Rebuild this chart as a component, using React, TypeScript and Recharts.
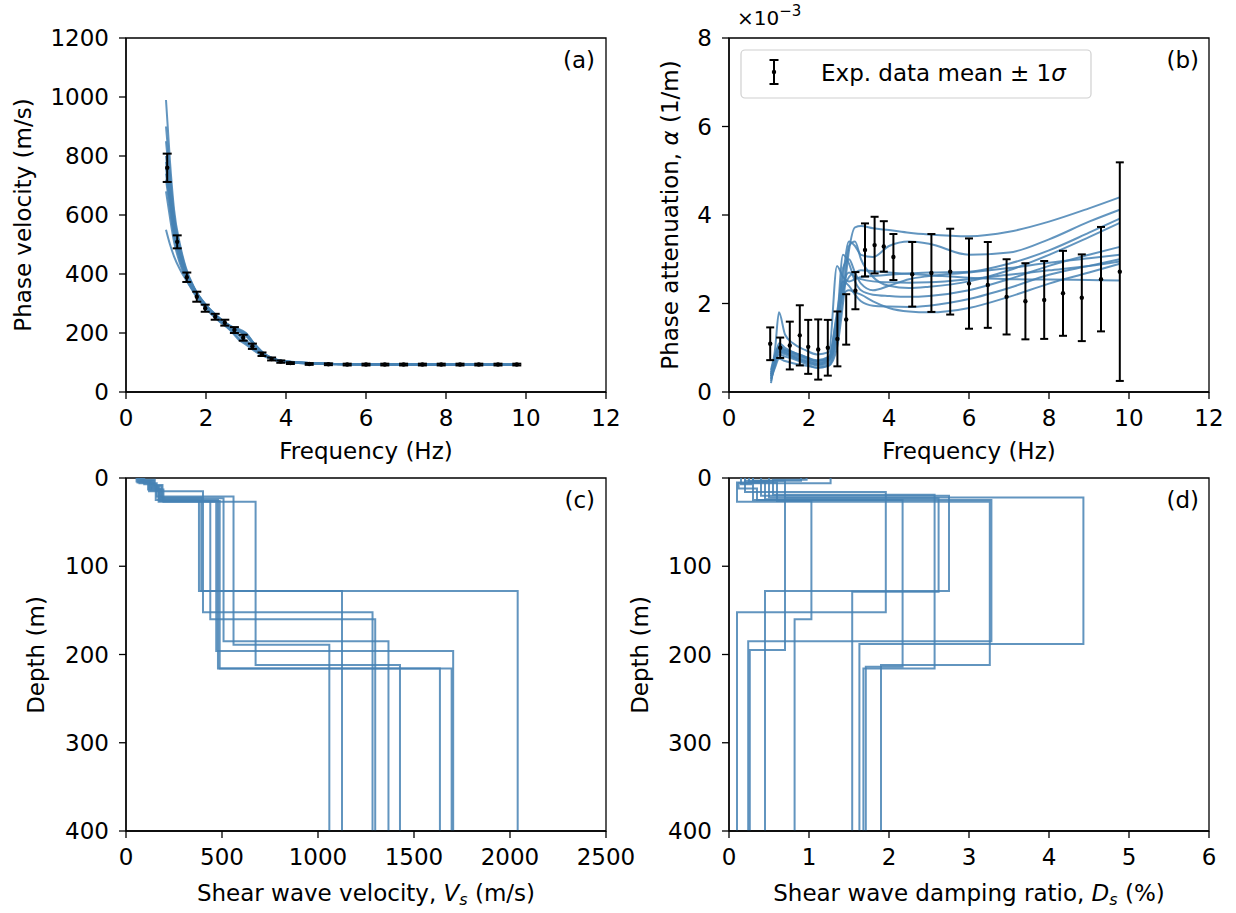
import React from "react";
import { ComposedChart, Line, Scatter, ErrorBar, XAxis, YAxis, ReferenceArea } from "recharts";

const FONT = "DejaVu Sans";
const BLUE = "#4682b4";
const W = 1236;
const H = 913;
const FS = 23;

// experimental data (shared frequencies for panels a and b)
const freqs = [1.03, 1.28, 1.52, 1.77, 1.98, 2.23, 2.47, 2.71, 2.93, 3.16, 3.4, 3.64, 3.87, 4.11, 4.58, 5.06, 5.53, 6.0, 6.47, 6.94, 7.41, 7.88, 8.35, 8.82, 9.3, 9.77];
const phaseVel = [760, 509, 389, 323, 284, 255, 235, 210, 184, 155, 128, 112, 103, 98, 95, 94, 93, 93, 93, 93, 93, 93, 93, 93, 93, 93];
const phaseVelStd = [48, 22, 16, 17, 12, 10, 10, 10, 10, 9, 6, 5, 4, 3, 3, 3, 3, 3, 3, 3, 3, 3, 3, 3, 3, 3];
const atten = [1.09, 1.0, 1.05, 1.28, 1.02, 0.96, 1.0, 1.2, 1.64, 2.29, 3.21, 3.32, 3.29, 3.05, 2.66, 2.69, 2.72, 2.45, 2.42, 2.15, 2.05, 2.08, 2.23, 2.13, 2.55, 2.72];
const attenStd = [0.37, 0.23, 0.54, 0.68, 0.61, 0.68, 0.63, 0.62, 0.57, 0.42, 0.6, 0.64, 0.57, 0.52, 0.73, 0.88, 0.97, 1.02, 0.97, 0.85, 0.86, 0.88, 0.96, 0.98, 1.18, 2.47];

// theoretical dispersion curves (a)
const freqGridA = [1.0, 1.1, 1.2, 1.35, 1.5, 1.7, 2.0, 2.3, 2.6, 2.8, 3.0, 3.2, 3.5, 4.0, 5.0, 6.5, 8.0, 9.77];
const velCurves: number[][] = [
  [990, 780, 620, 500, 420, 355, 295, 255, 225, 210, 190, 160, 125, 103, 96, 94, 93, 93],
  [550, 500, 460, 415, 380, 340, 285, 245, 215, 195, 170, 145, 120, 102, 96, 94, 93, 93],
  [800, 680, 570, 470, 405, 350, 295, 255, 222, 205, 195, 165, 125, 103, 96, 94, 93, 92],
  [760, 650, 550, 460, 400, 345, 290, 250, 220, 215, 200, 165, 125, 103, 96, 94, 93, 92],
  [720, 620, 530, 445, 390, 338, 285, 245, 212, 185, 165, 145, 120, 102, 95, 93, 92, 92],
  [850, 710, 590, 480, 410, 352, 292, 252, 222, 210, 198, 162, 124, 103, 96, 94, 93, 92],
  [680, 590, 510, 435, 385, 335, 283, 243, 210, 180, 160, 140, 118, 101, 95, 93, 92, 92],
  [780, 660, 560, 465, 402, 347, 291, 251, 218, 208, 192, 160, 124, 103, 96, 94, 93, 92],
  [900, 740, 600, 490, 415, 353, 293, 253, 224, 212, 196, 163, 126, 104, 96, 94, 93, 93],
  [740, 640, 540, 455, 396, 342, 288, 248, 216, 195, 175, 150, 121, 102, 95, 93, 92, 92],
];

// theoretical attenuation curves (b), units of 1e-3 1/m
const freqGridB = [1.05, 1.15, 1.25, 1.4, 1.6, 1.9, 2.2, 2.5, 2.7, 2.85, 3.0, 3.15, 3.3, 3.6, 4.0, 4.5, 5.0, 6.0, 7.0, 8.0, 9.0, 9.77];
const attCurves: number[][] = [
  [0.3, 0.55, 0.75, 0.7, 0.65, 0.6, 0.55, 0.6, 1.0, 2.0, 3.2, 3.72, 3.75, 3.7, 3.66, 3.6, 3.56, 3.52, 3.62, 3.85, 4.15, 4.4],
  [0.2, 0.75, 1.1, 1.0, 0.9, 0.8, 0.7, 0.75, 1.3, 2.6, 3.4, 3.3, 3.1, 3.05, 3.3, 3.4, 3.35, 3.1, 3.15, 3.45, 3.85, 4.12],
  [0.35, 0.95, 1.8, 1.3, 1.1, 0.95, 0.85, 0.9, 2.85, 2.6, 2.5, 2.55, 2.6, 2.62, 2.65, 2.68, 2.7, 2.72, 2.9, 3.2, 3.6, 3.92],
  [0.25, 0.6, 0.85, 0.8, 0.75, 0.65, 0.55, 0.6, 1.2, 2.2, 3.3, 3.4, 3.0, 2.6, 2.4, 2.35, 2.38, 2.5, 2.75, 3.1, 3.5, 3.82],
  [0.4, 0.7, 0.95, 0.9, 0.8, 0.7, 0.62, 0.7, 1.6, 3.1, 2.9, 2.5, 2.3, 2.2, 2.17, 2.15, 2.17, 2.3, 2.55, 2.85, 3.1, 3.28],
  [0.3, 0.65, 0.9, 0.85, 0.78, 0.68, 0.6, 0.65, 1.4, 2.8, 3.0, 2.7, 2.45, 2.3, 2.4, 2.55, 2.62, 2.7, 2.8, 2.92, 3.02, 3.1],
  [0.45, 0.8, 1.05, 0.95, 0.88, 0.78, 0.7, 0.78, 1.8, 2.5, 2.4, 2.2, 2.05, 1.95, 1.93, 1.92, 1.95, 2.1, 2.35, 2.65, 2.85, 3.0],
  [0.35, 0.7, 0.92, 0.88, 0.82, 0.72, 0.64, 0.72, 1.5, 2.4, 2.7, 2.6, 2.55, 2.5, 2.48, 2.47, 2.48, 2.55, 2.65, 2.75, 2.85, 2.95],
  [0.5, 0.85, 1.0, 0.95, 0.9, 0.8, 0.72, 0.8, 1.7, 2.2, 2.3, 2.25, 2.2, 2.05, 1.9, 1.82, 1.8, 1.9, 2.15, 2.45, 2.7, 2.9],
  [0.4, 0.75, 0.98, 0.92, 0.85, 0.76, 0.66, 0.74, 1.6, 2.3, 2.6, 2.7, 2.75, 2.73, 2.7, 2.67, 2.64, 2.58, 2.55, 2.54, 2.53, 2.52],
];

// Vs profiles (c): layer velocities (last = half-space) and layer bottoms (m)
const vsLayers: number[][] = [
  [65, 125, 170, 380, 2040],
  [80, 140, 185, 392, 1125],
  [60, 120, 401, 1284],
  [75, 150, 190, 439, 1298],
  [90, 135, 180, 508, 1367],
  [70, 160, 560, 1059],
  [85, 145, 170, 470, 1704],
  [55, 115, 195, 675, 1427],
  [95, 155, 479, 1635],
  [78, 130, 175, 488, 1696],
];
const vsBottoms: number[][] = [
  [4, 11, 24, 128],
  [3, 9, 22, 128],
  [5, 15, 152],
  [2, 8, 26, 160],
  [5, 12, 23, 185],
  [6, 21, 189],
  [3, 10, 27, 196],
  [4, 13, 27, 212],
  [7, 25, 216],
  [3, 14, 26, 216],
];

// Ds profiles (d): damping ratio (%) per layer and layer bottoms (m)
const dsLayers: number[][] = [
  [0.5, 0.2, 1.96, 0.1],
  [0.3, 0.45, 0.7, 0.26],
  [1.27, 0.12, 0.35, 3.28, 0.24],
  [0.9, 0.4, 2.75, 0.45],
  [0.2, 0.6, 1.03, 0.82],
  [0.15, 0.3, 2.17, 1.71],
  [0.97, 0.55, 2.57, 1.68],
  [0.25, 0.5, 4.43, 1.63],
  [0.4, 0.1, 3.26, 1.9],
  [0.3, 0.7, 2.62, 1.54],
];
const dsBottoms: number[][] = [
  [3, 16, 152],
  [4, 24, 195],
  [6, 12, 25, 185],
  [3, 20, 128],
  [5, 26, 160],
  [7, 25, 214],
  [2, 19, 216],
  [4, 22, 188],
  [5, 27, 212],
  [3, 23, 129],
];

const MAX_DEPTH = 400;

function pairs(xs: number[], ys: number[], xk: string, yk: string) {
  return xs.map((x, i) => ({ [xk]: x, [yk]: ys[i] }));
}

function stepProfile(vals: number[], bottoms: number[], key: string) {
  const pts: Record<string, number>[] = [];
  let top = 0;
  vals.forEach((v, i) => {
    const bot = i < bottoms.length ? bottoms[i] : MAX_DEPTH;
    pts.push({ [key]: v, z: top }, { [key]: v, z: bot });
    top = bot;
  });
  return pts;
}

const expA = freqs.map((f, i) => ({ f, v: phaseVel[i], err: phaseVelStd[i] }));
const expB = freqs.map((f, i) => ({ f, a: atten[i], err: attenStd[i] }));

const tickStyle = { fill: "#000", fontSize: FS, fontFamily: FONT };
const axisLine = { stroke: "#000", strokeWidth: 1.3 };
const tickLine = { stroke: "#000", strokeWidth: 1.3 };

const dot = (p: any) => <circle cx={p.cx} cy={p.cy} r={2.2} fill="#000" />;

const COL_A = { left: 126, right: 606 };
const COL_B = { left: 729, right: 1209 };
const ROW_1 = { top: 38, bottom: 392 };
const ROW_2 = { top: 478, bottom: 831 };

function margins(col: { left: number; right: number }, row: { top: number; bottom: number }) {
  return { left: col.left - 60, right: W - col.right, top: row.top, bottom: H - row.bottom - 40 };
}

const chartStyle: React.CSSProperties = { position: "absolute", left: 0, top: 0 };

function lineProps() {
  return {
    stroke: BLUE,
    strokeWidth: 2,
    strokeOpacity: 0.85,
    dot: false,
    activeDot: false,
    isAnimationActive: false,
  } as const;
}

export default function App() {
  return (
    <div style={{ position: "absolute", left: 0, top: 0, width: W, height: H, background: "#fff" }}>
      {/* (a) phase velocity */}
      <div style={chartStyle}>
        <ComposedChart width={W} height={H} margin={margins(COL_A, ROW_1)}>
          <XAxis type="number" dataKey="f" domain={[0, 12]} ticks={[0, 2, 4, 6, 8, 10, 12]} interval={0}
            allowDataOverflow height={40} tick={tickStyle} tickSize={7} tickMargin={11} axisLine={axisLine} tickLine={tickLine} />
          <YAxis type="number" dataKey="v" domain={[0, 1200]} ticks={[0, 200, 400, 600, 800, 1000, 1200]} interval={0}
            allowDataOverflow width={60} tick={tickStyle} tickSize={7} tickMargin={10} axisLine={axisLine} tickLine={tickLine} />
          {velCurves.map((c, i) => (
            <Line key={i} data={pairs(freqGridA, c, "f", "v")} dataKey="v" type="monotone" {...lineProps()} />
          ))}
          <Scatter data={expA} dataKey="v" shape={dot} isAnimationActive={false}>
            <ErrorBar dataKey="err" direction="y" width={4.5} stroke="#000" strokeWidth={2} />
          </Scatter>
          <ReferenceArea x1={0} x2={12} y1={0} y2={1200} fill="none" stroke="#000" strokeWidth={1.3} />
        </ComposedChart>
      </div>

      {/* (b) phase attenuation */}
      <div style={chartStyle}>
        <ComposedChart width={W} height={H} margin={margins(COL_B, ROW_1)}>
          <XAxis type="number" dataKey="f" domain={[0, 12]} ticks={[0, 2, 4, 6, 8, 10, 12]} interval={0}
            allowDataOverflow height={40} tick={tickStyle} tickSize={7} tickMargin={11} axisLine={axisLine} tickLine={tickLine} />
          <YAxis type="number" dataKey="a" domain={[0, 8]} ticks={[0, 2, 4, 6, 8]} interval={0}
            allowDataOverflow width={60} tick={tickStyle} tickSize={7} tickMargin={10} axisLine={axisLine} tickLine={tickLine} />
          {attCurves.map((c, i) => (
            <Line key={i} data={pairs(freqGridB, c, "f", "a")} dataKey="a" type="monotone" {...lineProps()} />
          ))}
          <Scatter data={expB} dataKey="a" shape={dot} isAnimationActive={false}>
            <ErrorBar dataKey="err" direction="y" width={4} stroke="#000" strokeWidth={2} />
          </Scatter>
          <ReferenceArea x1={0} x2={12} y1={0} y2={8} fill="none" stroke="#000" strokeWidth={1.3} />
        </ComposedChart>
      </div>

      {/* (c) Vs profiles */}
      <div style={chartStyle}>
        <ComposedChart width={W} height={H} margin={margins(COL_A, ROW_2)}>
          <XAxis type="number" dataKey="vs" domain={[0, 2500]} ticks={[0, 500, 1000, 1500, 2000, 2500]} interval={0}
            allowDataOverflow height={40} tick={tickStyle} tickSize={7} tickMargin={11} axisLine={axisLine} tickLine={tickLine} />
          <YAxis type="number" dataKey="z" reversed domain={[0, MAX_DEPTH]} ticks={[0, 100, 200, 300, 400]} interval={0}
            allowDataOverflow width={60} tick={tickStyle} tickSize={7} tickMargin={10} axisLine={axisLine} tickLine={tickLine} />
          {vsLayers.map((v, i) => (
            <Line key={i} data={stepProfile(v, vsBottoms[i], "vs")} dataKey="z" type="linear" {...lineProps()} />
          ))}
          <ReferenceArea x1={0} x2={2500} y1={0} y2={MAX_DEPTH} fill="none" stroke="#000" strokeWidth={1.3} />
        </ComposedChart>
      </div>

      {/* (d) Ds profiles */}
      <div style={chartStyle}>
        <ComposedChart width={W} height={H} margin={margins(COL_B, ROW_2)}>
          <XAxis type="number" dataKey="ds" domain={[0, 6]} ticks={[0, 1, 2, 3, 4, 5, 6]} interval={0}
            allowDataOverflow height={40} tick={tickStyle} tickSize={7} tickMargin={11} axisLine={axisLine} tickLine={tickLine} />
          <YAxis type="number" dataKey="z" reversed domain={[0, MAX_DEPTH]} ticks={[0, 100, 200, 300, 400]} interval={0}
            allowDataOverflow width={60} tick={tickStyle} tickSize={7} tickMargin={10} axisLine={axisLine} tickLine={tickLine} />
          {dsLayers.map((d, i) => (
            <Line key={i} data={stepProfile(d, dsBottoms[i], "ds")} dataKey="z" type="linear" {...lineProps()} />
          ))}
          <ReferenceArea x1={0} x2={6} y1={0} y2={MAX_DEPTH} fill="none" stroke="#000" strokeWidth={1.3} />
        </ComposedChart>
      </div>

      {/* titles, panel tags, legend */}
      <svg width={W} height={H} style={{ position: "absolute", left: 0, top: 0, pointerEvents: "none" }}
        fontFamily={FONT} fontSize={FS} fill="#000">
        <text transform="translate(31,215) rotate(-90)" textAnchor="middle">Phase velocity (m/s)</text>
        <text x={366} y={459} textAnchor="middle">Frequency (Hz)</text>
        <text transform="translate(678,215) rotate(-90)" textAnchor="middle">
          Phase attenuation, <tspan fontStyle="italic">α</tspan> (1/m)
        </text>
        <text x={969} y={459} textAnchor="middle">Frequency (Hz)</text>
        <text transform="translate(44,655) rotate(-90)" textAnchor="middle">Depth (m)</text>
        <text x={366} y={901} textAnchor="middle">
          Shear wave velocity, <tspan fontStyle="italic">V</tspan>
          <tspan fontStyle="italic" fontSize={16} dy={4}>s</tspan>
          <tspan dy={-4}> (m/s)</tspan>
        </text>
        <text transform="translate(648,655) rotate(-90)" textAnchor="middle">Depth (m)</text>
        <text x={969} y={901} textAnchor="middle">
          Shear wave damping ratio, <tspan fontStyle="italic">D</tspan>
          <tspan fontStyle="italic" fontSize={16} dy={4}>s</tspan>
          <tspan dy={-4}> (%)</tspan>
        </text>

        <text x={595} y={68} textAnchor="end">(a)</text>
        <text x={1199} y={68} textAnchor="end">(b)</text>
        <text x={595} y={508} textAnchor="end">(c)</text>
        <text x={1199} y={508} textAnchor="end">(d)</text>

        <text x={737} y={25} fontSize={20}>
          ×10<tspan fontSize={15} dy={-9}>−3</tspan>
        </text>

        <rect x={741} y={50} width={350} height={48} rx={4} fill="#fff" fillOpacity={0.8} stroke="#d0d0d0" strokeWidth={1.2} />
        <g stroke="#000" strokeWidth={2}>
          <line x1={774} y1={60} x2={774} y2={84} />
          <line x1={769.5} y1={60} x2={778.5} y2={60} />
          <line x1={769.5} y1={84} x2={778.5} y2={84} />
        </g>
        <circle cx={774} cy={72} r={2.2} fill="#000" />
        <text x={821} y={81}>
          Exp. data mean ± 1<tspan fontStyle="italic">σ</tspan>
        </text>
      </svg>
    </div>
  );
}
